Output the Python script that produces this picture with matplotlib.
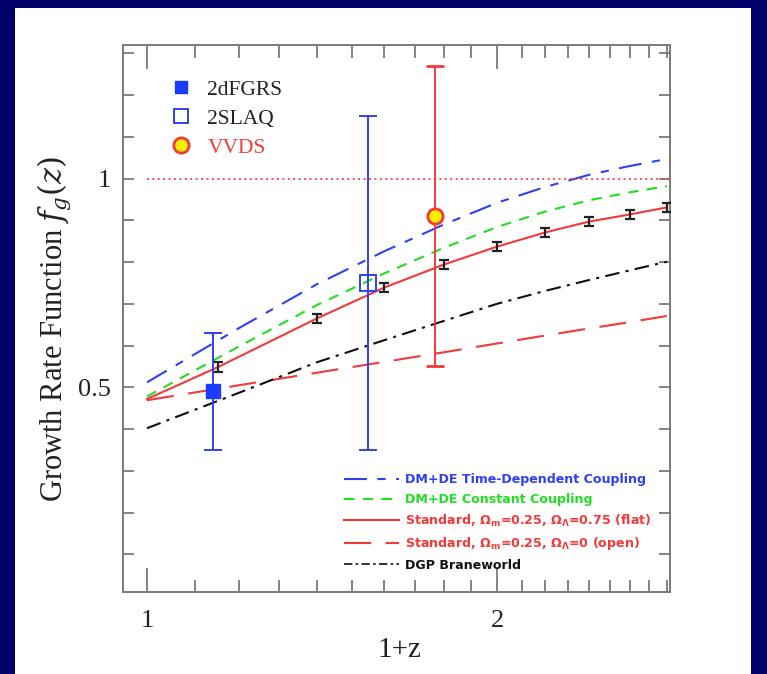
import numpy as np
import matplotlib.pyplot as plt
import matplotlib.ticker as mticker
from matplotlib.patches import Rectangle
from matplotlib.lines import Line2D

# curves, x = 1+z
x_curve = [1.0, 1.2, 1.4, 1.6, 1.8, 2.0, 2.2, 2.4, 2.6, 2.8]
f_timedep = [0.512, 0.642, 0.747, 0.826, 0.890, 0.942, 0.980, 1.009, 1.030, 1.047]
f_const = [0.478, 0.598, 0.697, 0.773, 0.834, 0.884, 0.921, 0.948, 0.967, 0.982]
f_open = [0.469, 0.505, 0.535, 0.561, 0.584, 0.605, 0.624, 0.641, 0.656, 0.671]
f_dgp = [0.402, 0.487, 0.560, 0.613, 0.659, 0.700, 0.731, 0.757, 0.780, 0.801]

# standard flat model, drawn through the simulated points
x_flat = [1.0, 1.15, 1.4, 1.6, 1.8, 2.0, 2.2, 2.4, 2.6, 2.8]
f_flat = [0.472, 0.548, 0.665, 0.739, 0.794, 0.837, 0.871, 0.897, 0.914, 0.931]

# simulated points on the standard (flat) model
x_sim = [1.15, 1.4, 1.6, 1.8, 2.0, 2.2, 2.4, 2.6, 2.8]
f_sim = [0.548, 0.665, 0.739, 0.794, 0.837, 0.871, 0.897, 0.914, 0.931]
f_sim_err = [0.012, 0.010, 0.010, 0.010, 0.010, 0.010, 0.010, 0.010, 0.010]

# survey measurements
surveys = ['2dFGRS', '2SLAQ', 'VVDS']
x_obs = [1.14, 1.55, 1.77]
f_obs = [0.49, 0.75, 0.91]
f_obs_err = [0.14, 0.40, 0.36]

unity = 1.0

curve_labels = ['DM+DE Time-Dependent Coupling',
                'DM+DE Constant Coupling',
                r'Standard, $\mathbf{\Omega_m}$=0.25, $\mathbf{\Omega_\Lambda}$=0.75 (flat)',
                r'Standard, $\mathbf{\Omega_m}$=0.25, $\mathbf{\Omega_\Lambda}$=0 (open)',
                'DGP Braneworld']

navy = '#000068'
blue = '#3040f0'
green = '#22dd22'
red = '#f23a3a'
grey = '#7a7a7a'
ink = '#222222'
serif = 'Liberation Serif'

fig = plt.figure(figsize=(7.67, 6.74), dpi=100, facecolor=navy)
# white panel
fig.patches.append(Rectangle((14.7/767, 0), (751-14.7)/767, 1-8/674,
                             transform=fig.transFigure, facecolor='white', edgecolor='none', zorder=-5))

ax = fig.add_axes([123/767, 1-592/674, (670-123)/767, (592-45)/674])
ax.set_zorder(2)
ax.set_xscale('log')
ax.set_xlim(0.9536, 2.817)
ax.set_ylim(0.0097, 1.32)

ax.plot(x_curve, f_timedep, color=blue, lw=1.5, dashes=(11, 5, 4, 5))
ax.plot(x_curve, f_const, color=green, lw=1.5, dashes=(5, 4))
ax.plot(x_flat, f_flat, color=red, lw=1.5)
ax.plot(x_curve, f_open, color=red, lw=1.5, dashes=(13, 7))
ax.plot(x_curve, f_dgp, color='#111111', lw=1.5, dashes=(7, 3, 1.5, 3))
ax.hlines(unity, x_curve[0], ax.get_xlim()[1], color=red, lw=1.3, linestyles=(0, (1, 2)))

ax.errorbar(x_sim, f_sim, yerr=f_sim_err, fmt='none', ecolor=ink, elinewidth=1.6,
            capsize=3.8, capthick=1.6, zorder=4)

# survey points
ax.errorbar(x_obs[0], f_obs[0], yerr=f_obs_err[0], fmt='s', color='#1a3cff', ms=10, mec='#1a3cff',
            ecolor=blue, elinewidth=1.4, capsize=6.5, capthick=1.4, zorder=5)
ax.errorbar(x_obs[1], f_obs[1], yerr=f_obs_err[1], fmt='s', color=blue, ms=11, mfc='none', mew=1.4,
            ecolor=blue, elinewidth=1.4, capsize=6.5, capthick=1.4, zorder=5)
ax.errorbar(x_obs[2], f_obs[2], yerr=f_obs_err[2], fmt='o', ms=11, mfc='#ffee00', mec=red, mew=2,
            ecolor=red, elinewidth=1.4, capsize=6.5, capthick=1.4, zorder=5)

# ticks
ax.xaxis.set_major_locator(mticker.FixedLocator([1, 2]))
ax.xaxis.set_minor_locator(mticker.FixedLocator(list(np.arange(1.1, 2.0, 0.1)) + list(np.arange(2.1, 2.85, 0.1))))
ax.xaxis.set_major_formatter(mticker.FixedFormatter(['1', '2']))
ax.xaxis.set_minor_formatter(mticker.NullFormatter())
ax.yaxis.set_major_locator(mticker.FixedLocator([0.5, 1.0]))
ax.yaxis.set_major_formatter(mticker.FixedFormatter(['0.5', '1']))
ax.yaxis.set_minor_locator(mticker.MultipleLocator(0.1))
ax.tick_params(which='both', direction='in', top=True, right=True, color=grey, width=1.3,
               labelsize=19, labelcolor=ink)
ax.tick_params(axis='x', which='major', length=17, pad=13)
ax.tick_params(axis='x', which='minor', length=9)
ax.tick_params(axis='y', which='both', length=8, pad=9)
for lab in ax.get_xticklabels() + ax.get_yticklabels():
    lab.set_fontfamily(serif)
for s in ax.spines.values():
    s.set_color(grey)
    s.set_linewidth(1.4)

ax.set_xlabel('1+z', fontsize=21, family=serif, color=ink)
ax.xaxis.set_label_coords(0.505, -0.083)
ax.set_ylabel(r'Growth Rate Function $f_g(z)$', fontsize=22, family=serif, color=ink,
              math_fontfamily='dejavuserif')
ax.yaxis.set_label_coords(-0.092, 0.48)

# survey legend
h_obs = [Line2D([], [], ls='none', marker='s', ms=9, color='#1a3cff'),
         Line2D([], [], ls='none', marker='s', ms=10, mfc='none', mec=blue, mew=1.4),
         Line2D([], [], ls='none', marker='o', ms=11, mfc='#ffee00', mec=red, mew=2)]
leg1 = ax.legend(h_obs, surveys, loc='upper left', bbox_to_anchor=(0.052, 0.972), frameon=False,
                 prop={'family': serif, 'size': 15.5}, handlelength=0.9, handletextpad=0.8,
                 labelspacing=0.42)
for t, c in zip(leg1.get_texts(), [ink, ink, red]):
    t.set_color(c)
ax.add_artist(leg1)

# model legend
h_mod = [Line2D([], [], color=blue, lw=1.5, dashes=(11, 5, 4, 5)),
         Line2D([], [], color=green, lw=1.5, dashes=(5, 4)),
         Line2D([], [], color=red, lw=1.5),
         Line2D([], [], color=red, lw=1.5, dashes=(13, 7)),
         Line2D([], [], color='#111111', lw=1.2, dashes=(5, 2, 1.5, 2))]
leg2 = ax.legend(h_mod, curve_labels, loc='lower left', bbox_to_anchor=(0.383, 0.016), frameon=False,
                 prop={'family': 'DejaVu Sans', 'weight': 'bold', 'size': 9.1,
                       'math_fontfamily': 'dejavusans'},
                 handlelength=4.4, handletextpad=0.4, labelspacing=0.52)
for t, c in zip(leg2.get_texts(), [blue, green, red, red, '#111111']):
    t.set_color(c)

fig.savefig('out.png', dpi=100, facecolor=navy)
